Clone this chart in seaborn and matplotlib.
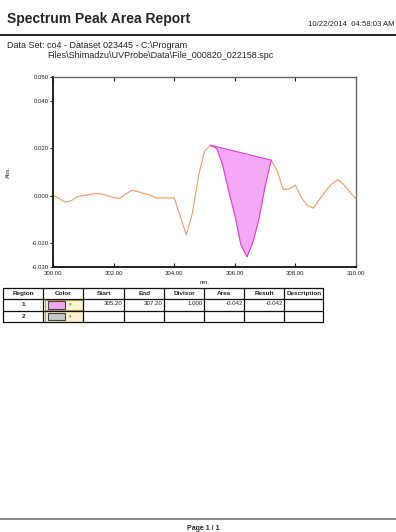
import matplotlib
matplotlib.use("Agg")
import matplotlib.pyplot as plt
import seaborn as sns
import numpy as np
import pandas as pd
from matplotlib.patches import Rectangle

# ---- data ----
wavelength = [300.0, 300.2, 300.4, 300.6, 300.8, 301.0, 301.2, 301.4, 301.6, 301.8,
              302.0, 302.2, 302.4, 302.6, 302.8, 303.0, 303.2, 303.4, 303.6, 303.8,
              304.0, 304.2, 304.4, 304.6, 304.8, 305.0, 305.2, 305.4, 305.6, 305.8,
              306.0, 306.2, 306.4, 306.6, 306.8, 307.0, 307.2, 307.4, 307.6, 307.8,
              308.0, 308.2, 308.4, 308.6, 308.8, 309.0, 309.2, 309.4, 309.6, 309.8,
              310.0]
absorbance = [0.0003, -0.0012, -0.0027, -0.0021, -0.0004, 0.0001, 0.0005, 0.0009, 0.0008, 0.0000,
              -0.0008, -0.0011, 0.0008, 0.0022, 0.0018, 0.0009, 0.0003, -0.0009, -0.0009, -0.0009,
              -0.0009, -0.0087, -0.0165, -0.0073, 0.0082, 0.0188, 0.0213, 0.0200, 0.0130, 0.0020,
              -0.0080, -0.0205, -0.0257, -0.0195, -0.0095, 0.0040, 0.0150, 0.0104, 0.0026, 0.0029,
              0.0045, -0.0008, -0.0042, -0.0052, -0.0014, 0.0020, 0.0050, 0.0068, 0.0047, 0.0015,
              -0.0012]
region_start = 305.20
region_end = 307.20

x_ticks = [300.0, 302.0, 304.0, 306.0, 308.0, 310.0]
x_tick_labels = ["300.00", "302.00", "304.00", "306.00", "308.00", "310.00"]
y_ticks = [-0.030, -0.020, 0.000, 0.020, 0.040, 0.050]
y_tick_labels = ["-0.030", "-0.020", "0.000", "0.020", "0.040", "0.050"]

table_header = ["Region", "Color", "Start", "End", "Divisor", "Area", "Result", "Description"]
row1 = ["1", "", "305.20", "307.20", "1.000", "-0.042", "-0.042", ""]
row2 = ["2", "", "", "", "", "", "", ""]

title = "Spectrum Peak Area Report"
timestamp = "10/22/2014  04:58:03 AM"
dataset_line1 = "Data Set: co4 - Dataset 023445 - C:\\Program"
dataset_line2 = "Files\\Shimadzu\\UVProbe\\Data\\File_000820_022158.spc"
page_text = "Page 1 / 1"

# ---- figure ----
sns.set_style("white")
plt.rcParams['font.family'] = ['Liberation Sans', 'DejaVu Sans']

W, H = 396, 532
fig = plt.figure(figsize=(W / 100, H / 100), dpi=100)

# page layer in pixel coordinates
page = fig.add_axes([0, 0, 1, 1])
page.set_xlim(0, W)
page.set_ylim(H, 0)
page.axis("off")

page.text(7, 19, title, fontsize=10.0, fontweight="bold", va="center", ha="left")
page.text(308, 24.5, timestamp, fontsize=5.6, va="center", ha="left", clip_on=False)
page.plot([0, W], [35, 35], color="#222222", lw=1.4)
page.text(7, 45, dataset_line1, fontsize=6.5, va="center", ha="left")
page.text(47, 55.5, dataset_line2, fontsize=6.5, va="center", ha="left")

page.text(8.5, 172, "Abs.", fontsize=4.3, rotation=90, va="center", ha="center")
page.text(204.5, 282, "nm.", fontsize=4.3, va="center", ha="center")

# table
col_edges = [3.3, 43.3, 83.3, 124.3, 164.3, 204.3, 244.3, 284.3, 323.3]
row_edges = [288.0, 299.3, 310.7, 321.7]
for xe in col_edges:
    page.plot([xe, xe], [row_edges[0], row_edges[-1]], color="#111111", lw=0.9)
for ye in row_edges:
    page.plot([col_edges[0], col_edges[-1]], [ye, ye], color="#111111", lw=0.9)

row_centers = [(row_edges[i] + row_edges[i + 1]) / 2 for i in range(3)]
for j, h in enumerate(table_header):
    page.text((col_edges[j] + col_edges[j + 1]) / 2, row_centers[0], h,
              fontsize=4.6, fontweight="bold", ha="center", va="center")
for r, row in enumerate([row1, row2]):
    yc = row_centers[r + 1]
    for j, val in enumerate(row):
        if not val:
            continue
        if j == 0:
            page.text((col_edges[0] + col_edges[1]) / 2, yc, val, fontsize=4.6,
                      fontweight="bold", ha="center", va="center")
        else:
            page.text(col_edges[j + 1] - 1.5, yc - 1.5, val, fontsize=4.4,
                      ha="right", va="center")

swatch_colors = ["#f2a6f2", "#c8c8c8"]
for r, sc in enumerate(swatch_colors):
    y0 = row_edges[r + 1]
    page.add_patch(Rectangle((44.5, y0 + 0.5), 38.5, 10.4, facecolor="#fbf3cf",
                             edgecolor="#b9a352", lw=0.8))
    page.add_patch(Rectangle((47.7, y0 + 1.8), 17.3, 7.6, facecolor=sc,
                             edgecolor="#444444", lw=0.8))
    page.text(70, y0 + 5.6, "▾", fontsize=3.5, color="#777777", ha="center",
              va="center", family=["DejaVu Sans"])

page.plot([0, W], [519, 519], color="#777777", lw=1.2)
page.text(203, 528.5, page_text, fontsize=5.0, fontweight="bold", ha="center", va="center")

# chart axes
left, right = 53 / W, 356 / W
top, bottom = 1 - 77 / H, 1 - 267 / H
ax = fig.add_axes([left, bottom, right - left, top - bottom])
ax.set_facecolor("white")

df = pd.DataFrame({"nm": wavelength, "abs": absorbance})
sns.lineplot(data=df, x="nm", y="abs", ax=ax, color="#f39a62", lw=0.8)

# peak area fill between curve and straight baseline
x_arr = np.array(wavelength)
y_arr = np.array(absorbance)
mask = (x_arr >= region_start - 1e-9) & (x_arr <= region_end + 1e-9)
xs = x_arr[mask]
ys = y_arr[mask]
base = np.interp(xs, [xs[0], xs[-1]], [ys[0], ys[-1]])
ax.fill_between(xs, ys, base, facecolor="#f5a8f5", edgecolor="none", zorder=3)
ax.plot(xs, ys, color="#e040e0", lw=0.8, zorder=4)
ax.plot([xs[0], xs[-1]], [ys[0], ys[-1]], color="#e040e0", lw=0.8, zorder=4)

ax.set_xlim(300, 310)
ax.set_ylim(-0.030, 0.050)
ax.set_xticks(x_ticks)
ax.set_xticklabels(x_tick_labels)
ax.set_yticks(y_ticks)
ax.set_yticklabels(y_tick_labels)
ax.set_xlabel("")
ax.set_ylabel("")
ax.tick_params(axis="x", direction="in", length=3, width=0.8, labelsize=4.3, pad=3,
               top=True, bottom=True, colors="#222222")
ax.tick_params(axis="y", which="both", left=True, right=False, direction="out",
               length=2.5, width=0.8, labelsize=4.3, pad=0.5, colors="#222222")
for yt in y_ticks:
    ax.plot([9.86, 10.0], [yt, yt], color="#333333", lw=0.8, clip_on=False,
            transform=ax.transData)
for side in ["left", "bottom"]:
    ax.spines[side].set_color("#111111")
    ax.spines[side].set_linewidth(1.3)
for side in ["top", "right"]:
    ax.spines[side].set_visible(True)
    ax.spines[side].set_color("#666666")
    ax.spines[side].set_linewidth(1.0)
ax.set_xlim(300, 310)

fig.savefig("out.png", dpi=100)
